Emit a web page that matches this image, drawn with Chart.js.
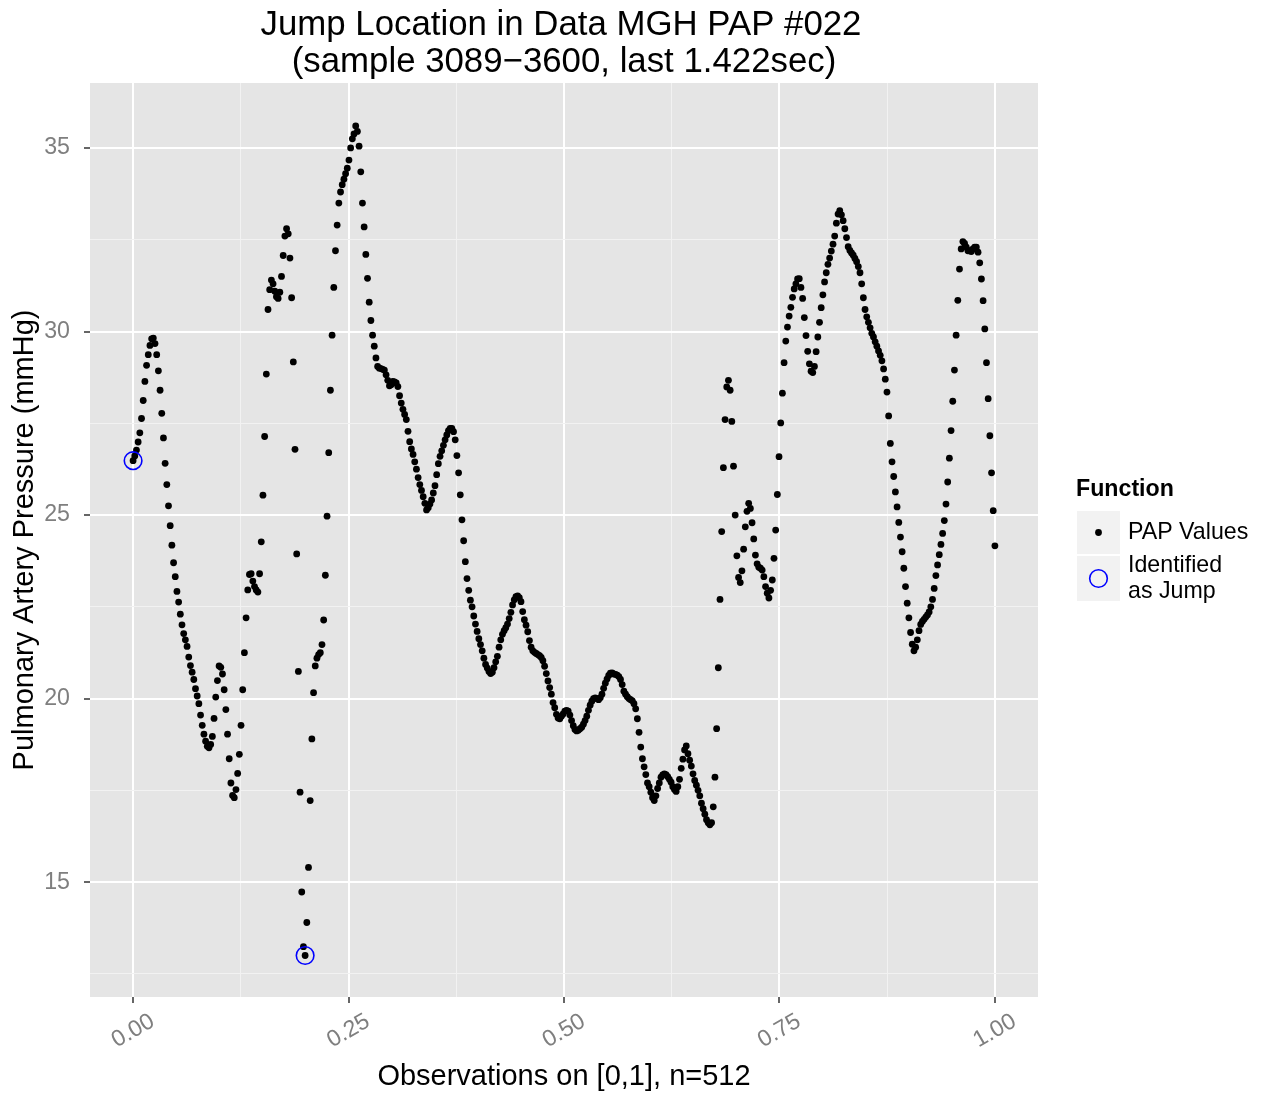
<!DOCTYPE html>
<html>
<head>
<meta charset="utf-8">
<title>Jump Location in Data MGH PAP #022</title>
<script src="https://cdn.jsdelivr.net/npm/chart.js@4.4.0/dist/chart.umd.min.js"></script>
<style>
  html, body { margin: 0; padding: 0; background: #fff; }
  canvas { display: block; }
</style>
</head>
<body>
<canvas id="papChart" width="1264" height="1095"></canvas>
<script>
// PAP samples 3089-3600 (512 values, mmHg)
var papValues = [
  26.48, 26.61, 26.77, 26.99, 27.24, 27.63, 28.12, 28.64, 29.08, 29.37,
  29.62, 29.80, 29.82, 29.67, 29.37, 28.93, 28.40, 27.77, 27.10, 26.41,
  25.83, 25.25, 24.71, 24.18, 23.70, 23.32, 22.92, 22.63, 22.30, 22.01,
  21.77, 21.60, 21.42, 21.13, 20.90, 20.72, 20.52, 20.27, 20.07, 19.86,
  19.55, 19.27, 19.03, 18.84, 18.70, 18.66, 18.75, 18.97, 19.46, 20.04,
  20.49, 20.89, 20.85, 20.67, 20.24, 19.70, 19.03, 18.36, 17.70, 17.36,
  17.30, 17.52, 17.96, 18.48, 19.27, 20.24, 21.25, 22.20, 22.96, 23.38,
  23.40, 23.20, 23.05, 22.96, 22.90, 23.40, 24.27, 25.54, 27.14, 28.84,
  30.60, 31.14, 31.40, 31.30, 31.10, 30.95, 30.90, 31.07, 31.50, 32.07,
  32.60, 32.80, 32.66, 32.00, 30.92, 29.17, 26.79, 23.94, 20.74, 17.45,
  14.73, 13.24, 13.00, 13.90, 15.40, 17.22, 18.90, 20.16, 20.89, 21.10,
  21.20, 21.25, 21.47, 22.14, 23.36, 24.97, 26.70, 28.40, 29.90, 31.20,
  32.20, 32.90, 33.50, 33.80, 34.00, 34.15, 34.30, 34.45, 34.67, 35.00,
  35.25, 35.38, 35.60, 35.45, 35.05, 34.35, 33.50, 32.85, 32.10, 31.45,
  30.80, 30.30, 29.90, 29.60, 29.28, 29.05, 29.00, 28.99, 28.97, 28.95,
  28.82, 28.67, 28.52, 28.55, 28.64, 28.63, 28.60, 28.50, 28.25, 28.05,
  27.88, 27.74, 27.60, 27.28, 27.00, 26.80, 26.65, 26.45, 26.25, 26.02,
  25.83, 25.67, 25.50, 25.32, 25.14, 25.20, 25.30, 25.41, 25.60, 25.80,
  26.10, 26.40, 26.60, 26.75, 26.90, 27.05, 27.18, 27.30, 27.36, 27.36,
  27.27, 27.05, 26.62, 26.15, 25.55, 24.87, 24.30, 23.73, 23.27, 22.95,
  22.68, 22.50, 22.25, 22.03, 21.83, 21.63, 21.47, 21.30, 21.10, 20.93,
  20.83, 20.74, 20.68, 20.72, 20.84, 21.00, 21.15, 21.40, 21.60, 21.75,
  21.85, 21.93, 22.03, 22.18, 22.35, 22.55, 22.69, 22.78, 22.80, 22.75,
  22.64, 22.37, 22.15, 22.00, 21.82, 21.58, 21.40, 21.30, 21.26, 21.23,
  21.20, 21.17, 21.12, 21.03, 20.88, 20.68, 20.48, 20.30, 20.12, 19.89,
  19.75, 19.57, 19.47, 19.45, 19.52, 19.58, 19.66, 19.68, 19.66, 19.55,
  19.40, 19.26, 19.16, 19.12, 19.14, 19.18, 19.22, 19.30, 19.40, 19.52,
  19.68, 19.82, 19.93, 20.00, 20.02, 20.00, 19.97, 20.02, 20.12, 20.28,
  20.42, 20.53, 20.63, 20.69, 20.70, 20.67, 20.66, 20.64, 20.60, 20.52,
  20.38, 20.20, 20.12, 20.05, 20.00, 19.97, 19.94, 19.86, 19.72, 19.45,
  19.08, 18.68, 18.36, 18.14, 17.93, 17.70, 17.60, 17.45, 17.30, 17.22,
  17.35, 17.55, 17.70, 17.86, 17.92, 17.95, 17.93, 17.87, 17.80, 17.72,
  17.60, 17.52, 17.47, 17.60, 17.80, 18.10, 18.35, 18.60, 18.71, 18.50,
  18.32, 18.16, 17.95, 17.77, 17.64, 17.50, 17.35, 17.15, 17.00, 16.85,
  16.70, 16.62, 16.56, 16.62, 17.05, 17.86, 19.18, 20.84, 22.70, 24.55,
  26.29, 27.60, 28.49, 28.67, 28.40, 27.55, 26.33, 25.00, 23.89, 23.30,
  23.16, 23.48, 24.07, 24.68, 25.10, 25.32, 25.18, 24.79, 24.35, 23.91,
  23.67, 23.58, 23.55, 23.50, 23.32, 23.05, 22.87, 22.74, 22.95, 23.23,
  23.82, 24.59, 25.56, 26.59, 27.51, 28.32, 29.15, 29.74, 30.12, 30.42,
  30.66, 30.93, 31.16, 31.30, 31.43, 31.44, 31.20, 30.90, 30.38, 29.89,
  29.46, 29.12, 28.92, 28.88, 29.05, 29.45, 29.85, 30.25, 30.65, 31.00,
  31.35, 31.60, 31.83, 32.00, 32.19, 32.38, 32.60, 32.95, 33.20, 33.29,
  33.18, 33.02, 32.80, 32.56, 32.31, 32.21, 32.14, 32.08, 31.99, 31.90,
  31.77, 31.60, 31.30, 30.92, 30.60, 30.40, 30.25, 30.10, 29.95, 29.85,
  29.72, 29.60, 29.47, 29.35, 29.20, 28.98, 28.70, 28.35, 27.70, 26.95,
  26.45, 26.05, 25.63, 25.22, 24.80, 24.40, 24.00, 23.55, 23.05, 22.60,
  22.20, 21.80, 21.48, 21.30, 21.40, 21.60, 21.85, 22.02, 22.10, 22.16,
  22.22, 22.28, 22.36, 22.50, 22.70, 23.00, 23.35, 23.64, 23.92, 24.20,
  24.50, 24.85, 25.30, 25.90, 26.55, 27.30, 28.10, 28.95, 29.90, 30.85,
  31.70, 32.25, 32.45, 32.40, 32.30, 32.20, 32.20, 32.18, 32.25, 32.30,
  32.30, 32.16, 31.87, 31.43, 30.84, 30.07, 29.15, 28.17, 27.16, 26.15,
  25.12, 24.16
];

// sample positions flagged as jumps
var jumpIdx = [0, 102];

var xMajor = [0, 0.25, 0.5, 0.75, 1];
var xMinor = [0.125, 0.375, 0.625, 0.875];
var xTickLabels = ["0.00", "0.25", "0.50", "0.75", "1.00"];
var yMajor = [15, 20, 25, 30, 35];
var yMinor = [12.5, 17.5, 22.5, 27.5, 32.5];

var titleLines = ["Jump Location in Data MGH PAP #022", "(sample 3089\u22123600, last 1.422sec)"];
var xTitle = "Observations on [0,1], n=512";
var yTitle = "Pulmonary Artery Pressure (mmHg)";
var legendTitle = "Function";
var legendLabels = [["PAP Values"], ["Identified", "as Jump"]];

var fontFamily = '"Liberation Sans", Arial, Helvetica, sans-serif';
var n = papValues.length;

var papPoints = papValues.map(function(v, i) { return { x: i / (n - 1), y: v }; });
var jumpPoints = jumpIdx.map(function(i) { return { x: i / (n - 1), y: papValues[i] }; });

function tickList(major, minor) {
  return major.concat(minor).sort(function(a, b) { return a - b; })
    .map(function(v) { return { value: v }; });
}
function isMajor(list, v) {
  return list.some(function(m) { return Math.abs(m - v) < 1e-9; });
}
function gridColor(list) {
  return function(c) { return isMajor(list, c.tick.value) ? '#FFFFFF' : '#F2F2F2'; };
}
function gridWidth(list) {
  return function(c) { return isMajor(list, c.tick.value) ? 2 : 1; };
}
function tickMarkColor(list) {
  return function(c) { return isMajor(list, c.tick.value) ? '#333333' : 'rgba(0,0,0,0)'; };
}

// ggplot-like panel, titles and legend
var ggDecor = {
  id: 'ggDecor',
  beforeDraw: function(chart) {
    var a = chart.chartArea, ctx = chart.ctx;
    ctx.save();
    ctx.fillStyle = '#FFFFFF';
    ctx.fillRect(0, 0, chart.width, chart.height);
    ctx.fillStyle = '#E5E5E5';
    ctx.fillRect(a.left, a.top, a.right - a.left, a.bottom - a.top);
    ctx.restore();
  },
  afterDraw: function(chart) {
    var ctx = chart.ctx, a = chart.chartArea, xs = chart.scales.x;
    var cx = (a.left + a.right) / 2;
    ctx.save();
    ctx.textAlign = 'center';
    ctx.textBaseline = 'middle';

    ctx.fillStyle = '#000000';
    ctx.font = '34.8px ' + fontFamily;
    ctx.fillText(titleLines[0], cx - 3, 25);
    ctx.fillText(titleLines[1], cx, 62);

    // rotated x tick labels
    ctx.fillStyle = '#7F7F7F';
    ctx.font = '23.2px ' + fontFamily;
    xMajor.forEach(function(v, k) {
      ctx.save();
      ctx.translate(xs.getPixelForValue(v), 1031);
      ctx.rotate(-Math.PI / 6);
      ctx.fillText(xTickLabels[k], 0, 0);
      ctx.restore();
    });

    ctx.fillStyle = '#000000';
    ctx.font = '29px ' + fontFamily;
    ctx.fillText(xTitle, cx, 1077);
    ctx.save();
    ctx.translate(25, (a.top + a.bottom) / 2);
    ctx.rotate(-Math.PI / 2);
    ctx.fillText(yTitle, 0, 0);
    ctx.restore();

    // legend
    ctx.textAlign = 'left';
    ctx.font = 'bold 23.2px ' + fontFamily;
    ctx.fillText(legendTitle, 1076, 490);

    ctx.fillStyle = '#F2F2F2';
    ctx.fillRect(1077, 511, 43, 43);
    ctx.fillRect(1077, 556, 43, 45);

    ctx.fillStyle = '#000000';
    ctx.beginPath();
    ctx.arc(1098.5, 532.5, 3.4, 0, Math.PI * 2);
    ctx.fill();

    ctx.strokeStyle = '#0000FF';
    ctx.lineWidth = 1.6;
    ctx.beginPath();
    ctx.arc(1098.5, 578.5, 8.8, 0, Math.PI * 2);
    ctx.stroke();

    ctx.fillStyle = '#000000';
    ctx.font = '23.2px ' + fontFamily;
    ctx.fillText(legendLabels[0][0], 1128, 533);
    ctx.fillText(legendLabels[1][0], 1128, 566);
    ctx.fillText(legendLabels[1][1], 1128, 592);
    ctx.restore();
  }
};

new Chart(document.getElementById('papChart'), {
  type: 'scatter',
  data: {
    datasets: [{
      label: 'Identified as Jump',
      data: jumpPoints,
      pointRadius: 8.8,
      pointBorderWidth: 1.6,
      pointBorderColor: '#0000FF',
      pointBackgroundColor: 'rgba(0,0,0,0)',
      order: 0
    }, {
      label: 'PAP Values',
      data: papPoints,
      pointRadius: 3.4,
      pointBorderWidth: 0,
      pointBackgroundColor: '#000000',
      order: 1
    }]
  },
  options: {
    responsive: false,
    animation: false,
    devicePixelRatio: 1,
    events: [],
    layout: { padding: { top: 83, right: 226, bottom: 0, left: 0 } },
    plugins: {
      legend: { display: false },
      title: { display: false },
      tooltip: { enabled: false }
    },
    scales: {
      x: {
        type: 'linear',
        min: -0.05,
        max: 1.05,
        afterBuildTicks: function(s) { s.ticks = tickList(xMajor, xMinor); },
        afterFit: function(s) { s.height = 98; },
        ticks: { display: false },
        border: { display: false },
        grid: {
          color: gridColor(xMajor),
          lineWidth: gridWidth(xMajor),
          tickColor: tickMarkColor(xMajor),
          tickWidth: 1.5,
          tickLength: 6
        }
      },
      y: {
        type: 'linear',
        min: 11.87,
        max: 36.77,
        afterBuildTicks: function(s) { s.ticks = tickList(yMajor, yMinor); },
        afterFit: function(s) { s.width = 90; },
        ticks: {
          color: '#7F7F7F',
          font: { family: fontFamily, size: 23.2 },
          padding: 14,
          callback: function(v) { return isMajor(yMajor, v) ? String(v) : ''; }
        },
        border: { display: false },
        grid: {
          color: gridColor(yMajor),
          lineWidth: gridWidth(yMajor),
          tickColor: tickMarkColor(yMajor),
          tickWidth: 1.5,
          tickLength: 6
        }
      }
    }
  },
  plugins: [ggDecor]
});
</script>
</body>
</html>
